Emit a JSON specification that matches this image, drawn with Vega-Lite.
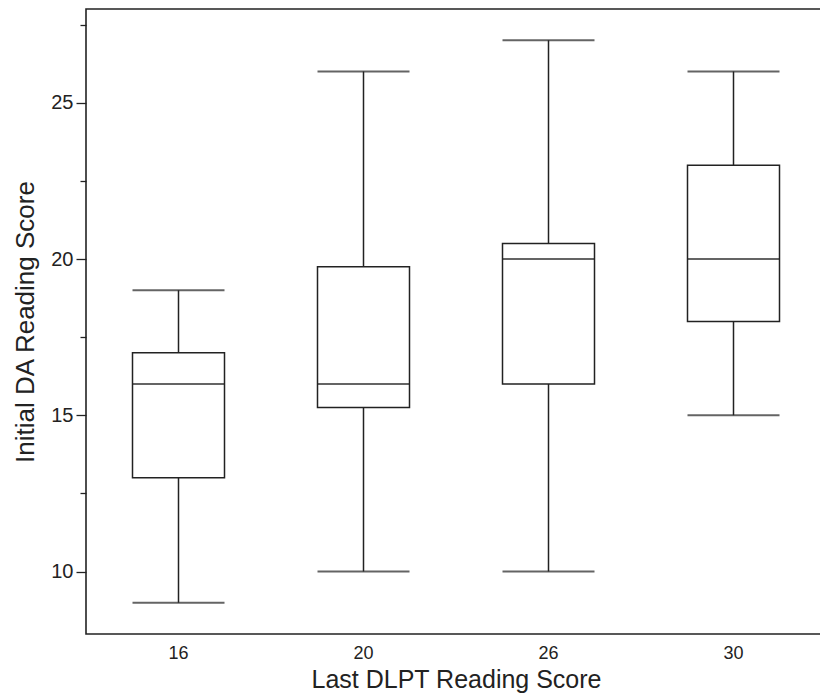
{
  "$schema": "https://vega.github.io/schema/vega-lite/v6.json",
  "autosize": "none",
  "padding": {"left": 86, "top": 9, "right": 0, "bottom": 61},
  "width": 740,
  "height": 625,
  "background": "white",
  "config": {
    "font": "Liberation Sans",
    "view": {"stroke": "#222", "strokeWidth": 1.6},
    "axis": {"labelFont": "Liberation Sans", "titleFont": "Liberation Sans", "labelColor": "#222", "titleColor": "#222", "titleFontWeight": "normal", "domainColor": "#222", "tickColor": "#222", "tickWidth": 1.3, "grid": false}
  },
  "data": {
    "values": [
      {"score": "16", "min": 9, "q1": 13, "median": 16, "q3": 17, "max": 19},
      {"score": "20", "min": 10, "q1": 15.25, "median": 16, "q3": 19.75, "max": 26},
      {"score": "26", "min": 10, "q1": 16, "median": 20, "q3": 20.5, "max": 27},
      {"score": "30", "min": 15, "q1": 18, "median": 20, "q3": 23, "max": 26}
    ]
  },
  "encoding": {
    "x": {
      "field": "score", "type": "ordinal",
      "scale": {"paddingInner": 0, "paddingOuter": 0},
      "axis": {"title": "Last DLPT Reading Score", "labelAngle": 0, "ticks": false, "domain": false, "labelFontSize": 18, "labelPadding": 10, "titleFontSize": 25, "titlePadding": 5}
    }
  },
  "layer": [
    {
      "mark": {"type": "rule", "color": "#222", "strokeWidth": 1.5},
      "encoding": {
        "y": {"field": "min", "type": "quantitative", "scale": {"domain": [8, 28], "nice": false, "zero": false},
          "axis": {"title": "Initial DA Reading Score", "values": [10, 15, 20, 25], "tickSize": 10, "domain": false, "labelFontSize": 20, "labelPadding": 3, "titleFontSize": 26, "titlePadding": 12, "orient": "left"}},
        "y2": {"field": "max"}
      }
    },
    {
      "mark": {"type": "bar", "fill": "white", "stroke": "#222", "strokeWidth": 1.5, "size": 92},
      "encoding": {
        "y": {"field": "q1", "type": "quantitative",
          "axis": {"title": null, "values": [12.5, 17.5, 22.5, 27.5], "tickSize": 6, "labels": false, "domain": false, "orient": "left"}},
        "y2": {"field": "q3"}
      }
    },
    {
      "mark": {"type": "tick", "color": "#222", "thickness": 1.8, "size": 92},
      "encoding": {"y": {"field": "median", "type": "quantitative", "axis": null}}
    },
    {
      "mark": {"type": "tick", "color": "#222", "thickness": 1.8, "size": 92},
      "encoding": {"y": {"field": "min", "type": "quantitative", "axis": null}}
    },
    {
      "mark": {"type": "tick", "color": "#222", "thickness": 1.8, "size": 92},
      "encoding": {"y": {"field": "max", "type": "quantitative", "axis": null}}
    }
  ],
  "resolve": {"axis": {"y": "independent"}}
}
